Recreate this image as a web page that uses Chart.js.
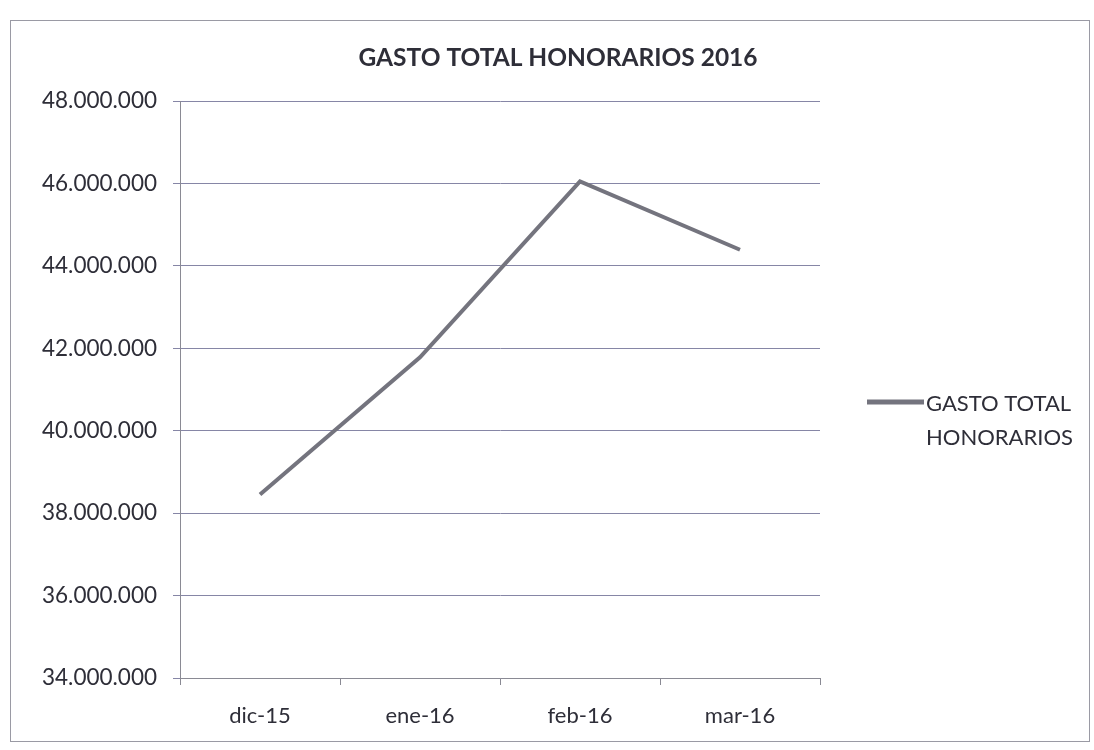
<!DOCTYPE html>
<html>
<head>
<meta charset="utf-8">
<script src="https://cdn.jsdelivr.net/npm/chart.js@4"></script>
<style>
  html, body { margin: 0; padding: 0; background: #fff; }
  #wrap { width: 1094px; height: 750px; position: relative; }
</style>
</head>
<body>
<div id="wrap"><canvas id="chart" width="1094" height="750"></canvas></div>
<script>
const meses = ['dic-15', 'ene-16', 'feb-16', 'mar-16'];
const gastoTotal = [38450000, 41780000, 46050000, 44390000];
const serieNombre = ['GASTO TOTAL', 'HONORARIOS'];
const tituloTexto = 'GASTO TOTAL HONORARIOS 2016';

const fuente = 'Lato, "Open Sans", sans-serif';
const colorLinea = '#74747e';
const colorGrid = '#8686a6';
const colorTexto = '#2e2e38';

function formatoMiles(v) {
    return String(v).replace(/\B(?=(\d{3})+(?!\d))/g, '.');
}

// marco de la hoja, titulo centrado en la hoja y leyenda a dos lineas
const marcoLeyenda = {
    id: 'marcoLeyenda',
    beforeDraw(chart) {
        const ctx = chart.ctx;
        ctx.save();
        ctx.fillStyle = '#ffffff';
        ctx.fillRect(0, 0, chart.width, chart.height);
        ctx.strokeStyle = '#9a9aa4';
        ctx.lineWidth = 1;
        ctx.strokeRect(10.5, 20.5, 1079, 721);
        ctx.restore();
    },
    afterDraw(chart) {
        const ctx = chart.ctx;
        const ds = chart.data.datasets[0];
        ctx.save();
        ctx.fillStyle = colorTexto;
        ctx.font = 'bold 24.5px ' + fuente;
        ctx.textAlign = 'center';
        ctx.textBaseline = 'middle';
        ctx.fillText(tituloTexto, 558, 58);

        ctx.strokeStyle = ds.borderColor;
        ctx.lineWidth = 5;
        ctx.beginPath();
        ctx.moveTo(867, 402);
        ctx.lineTo(924, 402);
        ctx.stroke();
        ctx.font = '22px ' + fuente;
        ctx.textAlign = 'left';
        ds.label.forEach((t, i) => ctx.fillText(t, 926, 404 + i * 34));
        ctx.restore();
    }
};

new Chart(document.getElementById('chart'), {
    type: 'line',
    data: {
        labels: meses,
        datasets: [{
            label: serieNombre,
            data: gastoTotal,
            borderColor: colorLinea,
            borderWidth: 4,
            pointRadius: 0,
            tension: 0,
            fill: false
        }]
    },
    options: {
        responsive: false,
        animation: false,
        layout: { padding: { left: 10, right: 274, top: 101, bottom: 0 } },
        plugins: {
            legend: { display: false },
            tooltip: { enabled: false },
            title: { display: false }
        },
        scales: {
            x: {
                offset: true,
                afterFit: s => { s.height = 72; },
                grid: { drawOnChartArea: false, offset: true, tickLength: 7, color: '#8a8a94' },
                border: { color: '#8a8a94', width: 1 },
                ticks: { color: colorTexto, padding: 18, font: { family: fuente, size: 22 } }
            },
            y: {
                min: 34000000,
                max: 48000000,
                afterFit: s => { s.width = 170; },
                grid: { color: colorGrid, lineWidth: 1, tickLength: 7 },
                border: { color: '#8a8a94', width: 1 },
                ticks: {
                    stepSize: 2000000,
                    color: colorTexto,
                    padding: 16,
                    font: { family: fuente, size: 22.5 },
                    callback: v => formatoMiles(v)
                }
            }
        }
    },
    plugins: [marcoLeyenda]
});
</script>
</body>
</html>
